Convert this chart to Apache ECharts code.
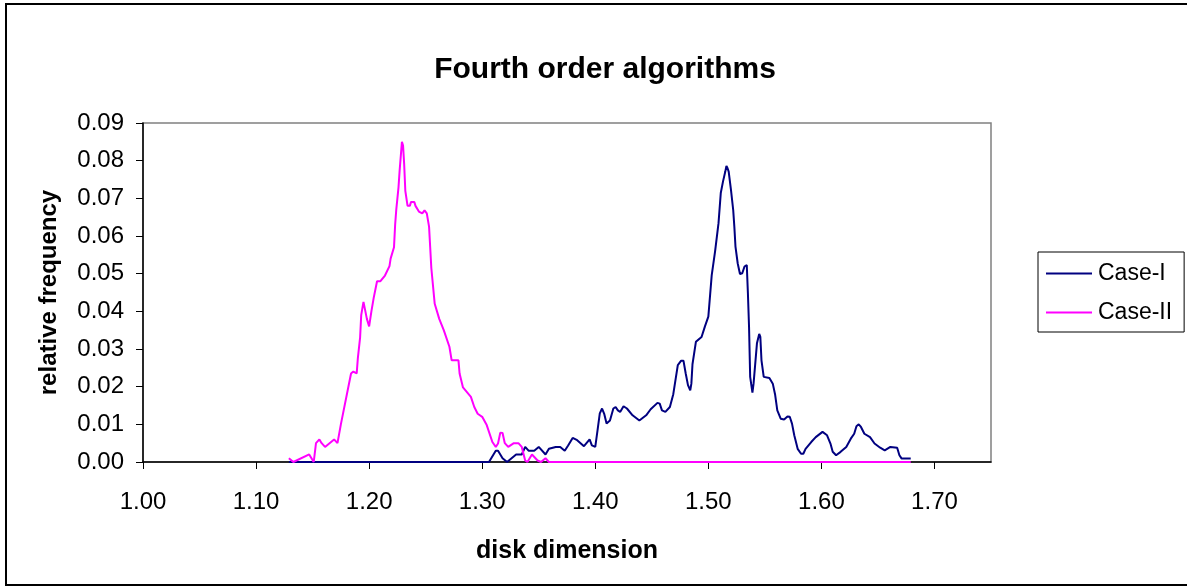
<!DOCTYPE html>
<html>
<head>
<meta charset="utf-8">
<script src="https://cdn.jsdelivr.net/npm/echarts@6/dist/echarts.min.js"></script>
<style>html,body{margin:0;padding:0;background:#fff;}#chart{width:1187px;height:587px;}</style>
</head>
<body>
<div id="chart"></div>
<script>
const titleText = 'Fourth order algorithms';
const xName = 'disk dimension';
const yName = 'relative frequency';
const seriesNames = ['Case-I', 'Case-II'];

const caseI_x = [1.129,1.306,1.312,1.314,1.318,1.322,1.330,1.335,1.338,1.341,
1.346,1.350,1.356,1.359,1.365,1.369,1.373,1.376,1.380,1.384,
1.390,1.395,1.397,1.400,1.402,1.404,1.406,1.408,1.410,1.413,
1.416,1.418,1.420,1.422,1.425,1.428,1.433,1.439,1.445,1.449,
1.455,1.457,1.459,1.462,1.466,1.469,1.473,1.476,1.478,1.480,
1.482,1.484,1.485,1.486,1.489,1.494,1.497,1.500,1.503,1.506,
1.509,1.511,1.513,1.515,1.516,1.517,1.518,1.520,1.522,1.523,
1.524,1.526,1.528,1.530,1.532,1.534,1.535,1.536,1.537,1.539,
1.540,1.543,1.545,1.546,1.547,1.549,1.554,1.557,1.559,1.561,
1.564,1.567,1.570,1.572,1.574,1.576,1.579,1.582,1.584,1.586,
1.591,1.595,1.601,1.605,1.608,1.610,1.613,1.617,1.622,1.626,
1.629,1.631,1.633,1.635,1.638,1.643,1.647,1.652,1.656,1.661,
1.667,1.669,1.671,1.679];
const caseI_y = [0,0,0.003,0.003,0.001,0,0.002,0.002,0.004,0.003,
0.003,0.004,0.002,0.0035,0.004,0.004,0.003,0.0044,0.0064,0.0058,
0.0042,0.006,0.0044,0.004,0.0084,0.0129,0.0142,0.0127,0.0102,0.011,
0.0142,0.0146,0.0137,0.0133,0.0148,0.0142,0.0124,0.011,0.0124,0.014,
0.0157,0.0155,0.0137,0.0133,0.0146,0.018,0.0257,0.0269,0.0269,0.0235,
0.0204,0.019,0.0208,0.026,0.0319,0.0332,0.036,0.0386,0.0496,0.056,
0.0634,0.0714,0.0745,0.0771,0.0786,0.078,0.0771,0.0723,0.0669,0.0625,
0.0572,0.0527,0.0499,0.0501,0.0519,0.0523,0.0448,0.0359,0.0226,0.0184,
0.0208,0.0315,0.034,0.0332,0.027,0.0226,0.0223,0.0208,0.018,0.0137,
0.0115,0.0113,0.0121,0.012,0.0102,0.0071,0.0035,0.0022,0.0022,0.0035,
0.0053,0.0066,0.008,0.0071,0.0049,0.0027,0.0018,0.0027,0.004,0.0062,
0.0075,0.0095,0.01,0.0093,0.0075,0.0066,0.0049,0.0038,0.0031,0.004,
0.0038,0.0018,0.0009,0.0009];

const caseII_x = [1.129,1.133,1.147,1.149,1.151,1.153,1.156,1.158,1.161,1.169,
1.172,1.173,1.175,1.184,1.186,1.189,1.190,1.192,1.193,1.195,
1.196,1.198,1.200,1.202,1.204,1.207,1.210,1.214,1.218,1.219,
1.222,1.223,1.224,1.226,1.227,1.229,1.230,1.231,1.232,1.234,
1.236,1.237,1.240,1.241,1.244,1.247,1.249,1.251,1.253,1.254,
1.255,1.258,1.262,1.266,1.271,1.273,1.279,1.280,1.283,1.290,
1.293,1.296,1.300,1.304,1.309,1.312,1.314,1.316,1.318,1.320,
1.323,1.328,1.332,1.335,1.338,1.340,1.344,1.349,1.352,1.356,
1.359,1.679];
const caseII_y = [0.001,0,0.002,0.001,0,0.005,0.006,0.005,0.004,0.006,
0.005,0.005,0.010,0.0235,0.024,0.0235,0.0275,0.033,0.039,0.0425,
0.042,0.038,0.036,0.040,0.0435,0.048,0.048,0.0495,0.052,0.054,
0.057,0.063,0.067,0.073,0.0775,0.085,0.084,0.079,0.072,0.068,
0.068,0.069,0.069,0.068,0.0665,0.066,0.0668,0.066,0.0625,0.057,
0.0515,0.042,0.038,0.035,0.0306,0.027,0.027,0.0235,0.0198,0.0173,
0.0146,0.0128,0.012,0.0098,0.0053,0.004,0.0049,0.0078,0.0077,0.005,
0.004,0.005,0.005,0.004,0.0004,0,0.002,0.0004,0,0.001,
0,0];

const zip = (xs, ys) => xs.map((x, i) => [x, ys[i]]);
const FONT = '"Liberation Sans", Arial, sans-serif';

const chart = echarts.init(document.getElementById('chart'), null, {renderer: 'canvas'});
chart.setOption({
  animation: false,
  backgroundColor: '#ffffff',
  textStyle: {fontFamily: FONT, color: '#000'},
  title: {
    text: titleText,
    left: 600,
    textAlign: 'center',
    top: 50,
    textStyle: {fontFamily: FONT, fontSize: 30, fontWeight: 'bold', color: '#000'}
  },
  graphic: [{
    type: 'rect', silent: true,
    shape: {x: 6, y: 4, width: 1195, height: 581},
    style: {fill: 'none', stroke: '#000', lineWidth: 2}
  }],
  legend: {
    orient: 'vertical',
    left: 1038, top: 252,
    padding: [10, 12, 8, 8],
    itemGap: 16,
    itemWidth: 46, itemHeight: 2,
    icon: 'rect',
    borderColor: '#000', borderWidth: 1,
    textStyle: {fontFamily: FONT, fontSize: 23, color: '#000', padding: [0,0,0,1]},
    data: seriesNames
  },
  grid: {
    left: 143, right: 196, top: 123, bottom: 125,
    show: true, borderColor: '#808080', borderWidth: 1.5, backgroundColor: 'transparent',
    containLabel: false
  },
  xAxis: {
    type: 'value', min: 1.0, max: 1.75, interval: 0.1,
    name: xName, nameLocation: 'middle', nameGap: 77,
    nameTextStyle: {fontFamily: FONT, fontSize: 25, fontWeight: 'bold', color: '#000'},
    axisLine: {show: true, onZero: false, lineStyle: {color: '#000', width: 1.5}},
    axisTick: {show: true, inside: false, length: 7, lineStyle: {color: '#000'}},
    axisLabel: {fontFamily: FONT, fontSize: 24, color: '#000', margin: 28,
      showMaxLabel: false,
      formatter: v => (v > 1.74 ? '' : v.toFixed(2))},
    splitLine: {show: false}
  },
  yAxis: {
    type: 'value', min: 0, max: 0.09, interval: 0.01,
    name: yName, nameLocation: 'middle', nameGap: 82, nameRotate: 90,
    nameTextStyle: {fontFamily: FONT, fontSize: 24, fontWeight: 'bold', color: '#000'},
    axisLine: {show: true, lineStyle: {color: '#000', width: 1.5}},
    axisTick: {show: true, inside: false, length: 7, lineStyle: {color: '#000'}},
    axisLabel: {fontFamily: FONT, fontSize: 24, color: '#000', margin: 19,
      formatter: v => v.toFixed(2)},
    splitLine: {show: false}
  },
  series: [
    {
      name: seriesNames[0], type: 'line', symbol: 'none',
      data: zip(caseI_x, caseI_y),
      lineStyle: {color: '#000080', width: 2}, itemStyle: {color: '#000080'}
    },
    {
      name: seriesNames[1], type: 'line', symbol: 'none',
      data: zip(caseII_x, caseII_y),
      lineStyle: {color: '#FF00FF', width: 2}, itemStyle: {color: '#FF00FF'}
    }
  ]
});
</script>
</body>
</html>
